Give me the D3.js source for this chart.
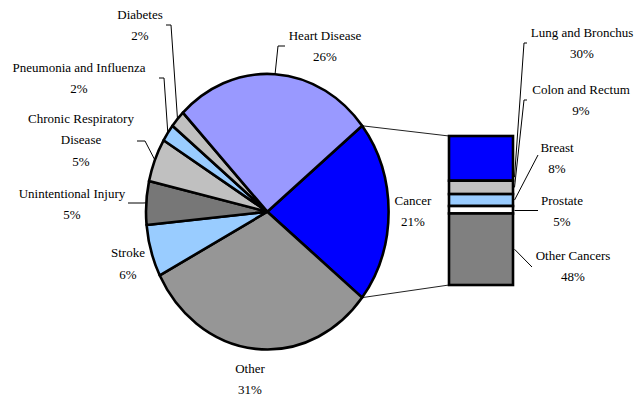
<!DOCTYPE html>
<html>
<head>
<meta charset="utf-8">
<script src="https://cdn.jsdelivr.net/npm/d3@7"></script>
<style>
  html, body { margin: 0; padding: 0; background: #fff; }
  svg { display: block; }
  text { font-family: "Liberation Serif", "Times New Roman", serif; font-size: 13px; fill: #000; }
</style>
</head>
<body>
<svg id="chart" width="634" height="398"></svg>
<script>
// Leading causes of death (share of all deaths, %)
const causes = ["Cancer", "Other", "Stroke", "Unintentional Injury",
  "Chronic Respiratory Disease", "Pneumonia and Influenza", "Diabetes", "Heart Disease"];
const causeShares = [21, 31, 6, 5, 5, 2, 2, 26];

// Cancer deaths broken down by site (share of cancer deaths, %)
const cancerTypes = ["Lung and Bronchus", "Colon and Rectum", "Breast", "Prostate", "Other Cancers"];
const cancerShares = [30, 9, 8, 5, 48];

// Fill colours
const causeColors = ["#0000FF", "#969696", "#99CCFF", "#777777", "#C0C0C0", "#99CCFF", "#C0C0C0", "#9999FF"];
const cancerColors = ["#0000FF", "#C0C0C0", "#99CCFF", "#FFFFFF", "#808080"];

const svg = d3.select("#chart");
const lineH = 21.7;

// Elliptical pie geometry
const cx = 267.3, cy = 211.7, rx = 121.3, ry = 137.8;
const total = d3.sum(causeShares);
const cancerSweep = 2 * Math.PI * causeShares[0] / total;
const start = Math.PI / 2 - cancerSweep / 2;

const pie = d3.pie().sort(null).value(d => d.v)
  .startAngle(start).endAngle(start + 2 * Math.PI);
const slices = pie(causes.map((c, i) => ({ name: c, v: causeShares[i], color: causeColors[i] })));

const arc = d3.arc().innerRadius(0).outerRadius(ry);
const edge = a => [cx + rx * Math.sin(a), cy - ry * Math.cos(a)];

// Bar of cancer sites
const barX0 = 449, barX1 = 513;
const yBar = d3.scaleLinear().domain([0, d3.sum(cancerShares)]).range([136, 285]);
let acc = 0;
const segs = cancerTypes.map((t, i) => {
  const s = { name: t, v: cancerShares[i], color: cancerColors[i], y0: acc, y1: acc + cancerShares[i] };
  acc += cancerShares[i];
  return s;
});

// Connectors from the cancer slice to the bar
const cancer = slices[0];
const pTop = edge(cancer.startAngle), pBot = edge(cancer.endAngle);
svg.append("line").attr("x1", pTop[0]).attr("y1", pTop[1])
  .attr("x2", barX0).attr("y2", yBar(0))
  .attr("stroke", "#222").attr("stroke-width", 1);
svg.append("line").attr("x1", pBot[0]).attr("y1", pBot[1])
  .attr("x2", barX0).attr("y2", yBar(d3.sum(cancerShares)))
  .attr("stroke", "#222").attr("stroke-width", 1);

// Pie slices
const gPie = svg.append("g")
  .attr("transform", `translate(${cx},${cy}) scale(${rx / ry},1)`);
gPie.selectAll("path").data(slices).join("path")
  .attr("d", arc)
  .attr("fill", d => d.data.color)
  .attr("stroke", "#000")
  .attr("stroke-width", 2.6)
  .attr("stroke-linejoin", "round")
  .attr("vector-effect", "non-scaling-stroke");

// Bar segments
svg.append("g").selectAll("rect").data(segs).join("rect")
  .attr("x", barX0).attr("width", barX1 - barX0)
  .attr("y", d => yBar(d.y0)).attr("height", d => yBar(d.y1) - yBar(d.y0))
  .attr("fill", d => d.color)
  .attr("stroke", "#000").attr("stroke-width", 2.6);

// Label placement for the pie: text centre x, first baseline, leader stub points
const pieLabels = {
  "Cancer": { x: 413, y: 204.5 },
  "Other": { x: 250, y: 372.5 },
  "Stroke": { x: 128, y: 257 },
  "Unintentional Injury": { x: 72, y: 197.5, leader: [[128, 203], [143, 203]] },
  "Chronic Respiratory Disease": { x: 81, y: 122.5, lines: ["Chronic Respiratory", "Disease"], leader: [[137, 141], [145, 141]] },
  "Pneumonia and Influenza": { x: 79, y: 71.5, leader: [[159, 78], [164, 78]] },
  "Diabetes": { x: 140, y: 18.5, leader: [[166, 25], [171, 25]] },
  "Heart Disease": { x: 325, y: 39.5, leader: [[285, 46], [278, 46]] }
};

const gLab = svg.append("g");
const leader = d3.line();

slices.forEach(s => {
  const L = pieLabels[s.data.name];
  const lines = (L.lines || [s.data.name]).concat([s.data.v + "%"]);
  lines.forEach((t, k) => {
    gLab.append("text").attr("x", L.x).attr("y", L.y + k * lineH)
      .attr("text-anchor", "middle").text(t);
  });
  if (L.leader) {
    const mid = (s.startAngle + s.endAngle) / 2;
    svg.append("path").attr("d", leader(L.leader.concat([edge(mid)])))
      .attr("fill", "none").attr("stroke", "#000").attr("stroke-width", 1);
  }
});

// Label placement for the bar
const barLabels = {
  "Lung and Bronchus": { x: 582, y: 36.5, leader: [[527, 43], [524, 43]], at: 0.92 },
  "Colon and Rectum": { x: 581, y: 93.5, leader: [[527, 100], [524, 100]], at: 0.5 },
  "Breast": { x: 557, y: 151.5, leader: [[538, 155]], at: 0.5 },
  "Prostate": { x: 562, y: 204.5, leader: [[538, 210.5]], at: 0.6 },
  "Other Cancers": { x: 573, y: 259.5, leader: [[532, 267]], at: 0.5 }
};

segs.forEach(s => {
  const L = barLabels[s.name];
  [s.name, s.v + "%"].forEach((t, k) => {
    gLab.append("text").attr("x", L.x).attr("y", L.y + k * lineH)
      .attr("text-anchor", "middle").text(t);
  });
  const yEnd = yBar(s.y0 + (s.y1 - s.y0) * L.at);
  svg.append("path").attr("d", leader(L.leader.concat([[barX1 + 1.5, yEnd]])))
    .attr("fill", "none").attr("stroke", "#000").attr("stroke-width", 1);
});
</script>
</body>
</html>
